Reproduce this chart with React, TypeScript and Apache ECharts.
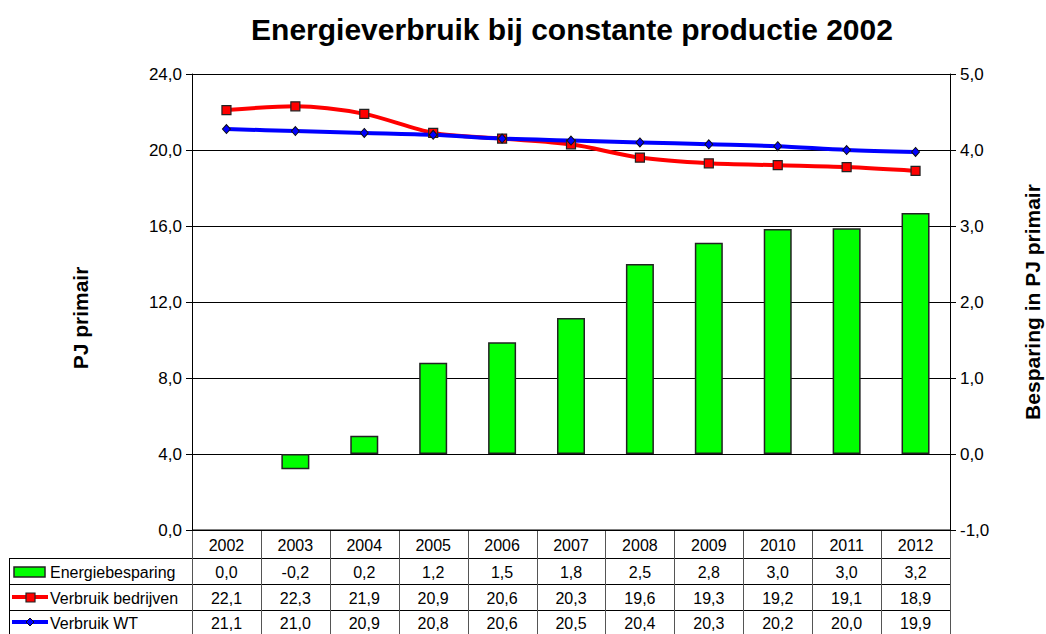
import React, { useEffect, useRef } from "react";
import * as echarts from "echarts";

const years = ["2002", "2003", "2004", "2005", "2006", "2007", "2008", "2009", "2010", "2011", "2012"];
const besparing = [0.0, -0.2, 0.24, 1.2, 1.47, 1.79, 2.5, 2.78, 2.96, 2.97, 3.17];
const verbruikBedrijven = [22.1, 22.3, 21.9, 20.9, 20.6, 20.3, 19.6, 19.3, 19.2, 19.1, 18.9];
const verbruikWT = [21.1, 21.0, 20.9, 20.8, 20.6, 20.5, 20.4, 20.3, 20.2, 20.0, 19.9];
const seriesNames = ["Energiebesparing", "Verbruik bedrijven", "Verbruik WT"];
const leftTicks = { min: 0, max: 24, interval: 4 };
const rightTicks = { min: -1, max: 5, interval: 1 };

const FONT = "Arial, 'Liberation Sans', sans-serif";
const fmt = (v: number) => v.toFixed(1).replace(".", ",");

export default function App() {
  const ref = useRef<HTMLDivElement>(null);
  useEffect(() => {
    if (!ref.current) return;
    const chart = echarts.init(ref.current, undefined, { renderer: "svg" });
    const W = 1046;
    const gl = 192, gr = 96, gt = 74, gb = 104;
    const plotR = W - gr;
    const plotB = 634 - gb;
    const cw = (plotR - gl) / years.length;
    const rowLines = [plotB, 558, 584, 610, 634];
    const rowCenters = [545, 572, 598, 623];
    const tableFont = { fontFamily: FONT, fontSize: 16, fill: "#000" };
    const g: any[] = [];
    g.push({ type: "line", shape: { x1: gl, y1: rowLines[0], x2: plotR, y2: rowLines[0] }, style: { stroke: "#000", lineWidth: 1 } });
    for (let i = 1; i < 4; i++) {
      g.push({ type: "line", shape: { x1: 9, y1: rowLines[i] + 0.5, x2: plotR, y2: rowLines[i] + 0.5 }, style: { stroke: "#000", lineWidth: 1 } });
    }
    g.push({ type: "line", shape: { x1: 9.5, y1: rowLines[1], x2: 9.5, y2: 634 }, style: { stroke: "#000", lineWidth: 1 } });
    for (let i = 0; i <= years.length; i++) {
      const x = Math.round(gl + i * cw) + 0.5;
      g.push({ type: "line", shape: { x1: x, y1: plotB, x2: x, y2: 634 }, style: { stroke: "#555", lineWidth: 1 } });
    }
    const rows = [years, besparing.map(fmt), verbruikBedrijven.map(fmt), verbruikWT.map(fmt)];
    rows.forEach((row, r) => {
      row.forEach((t, i) => {
        g.push({
          type: "text",
          x: gl + (i + 0.5) * cw,
          y: rowCenters[r],
          style: { ...tableFont, text: t, align: "center", verticalAlign: "middle" },
        });
      });
    });
    g.push({ type: "rect", shape: { x: 14, y: 567, width: 31, height: 10 }, style: { fill: "#00ff00", stroke: "#222", lineWidth: 1.5 } });
    g.push({ type: "line", shape: { x1: 12, y1: 597, x2: 48, y2: 597 }, style: { stroke: "#ff0000", lineWidth: 4 } });
    g.push({ type: "rect", shape: { x: 26, y: 593, width: 9, height: 9 }, style: { fill: "#ff0000", stroke: "#222", lineWidth: 1.2 } });
    g.push({ type: "line", shape: { x1: 12, y1: 622, x2: 48, y2: 622 }, style: { stroke: "#0000ff", lineWidth: 4 } });
    g.push({ type: "polygon", shape: { points: [[30, 618], [34, 622], [30, 626], [26, 622]] }, style: { fill: "#0000ff", stroke: "#111", lineWidth: 1 } });
    seriesNames.forEach((n, i) => {
      g.push({ type: "text", x: 50, y: rowCenters[i + 1], style: { ...tableFont, text: n, align: "left", verticalAlign: "middle" } });
    });
    g.push({ type: "text", x: 80, y: 318, rotation: Math.PI / 2, style: { text: "PJ primair", fontFamily: FONT, fontSize: 21, fontWeight: "bold", fill: "#000", align: "center", verticalAlign: "middle" } });
    g.push({ type: "text", x: 1032, y: 302, rotation: Math.PI / 2, style: { text: "Besparing in PJ primair", fontFamily: FONT, fontSize: 21, fontWeight: "bold", fill: "#000", align: "center", verticalAlign: "middle" } });

    const axisLabel = { fontFamily: FONT, fontSize: 17, color: "#000", formatter: (v: number) => fmt(v), margin: 10 };
    chart.setOption({
      animation: false,
      backgroundColor: "#fff",
      title: {
        text: "Energieverbruik bij constante productie 2002",
        left: 567,
        top: 9,
        textAlign: "center",
        textStyle: { fontFamily: FONT, fontSize: 30, fontWeight: "bold", color: "#000" },
      },
      grid: { left: gl, right: gr, top: gt, bottom: gb, containLabel: false },
      xAxis: {
        type: "category",
        data: years,
        boundaryGap: true,
        axisLine: { show: true, lineStyle: { color: "#000", width: 1 } },
        axisTick: { show: false },
        axisLabel: { show: false },
        splitLine: { show: false },
      },
      yAxis: [
        {
          type: "value",
          position: "left",
          ...leftTicks,
          axisLine: { show: true, lineStyle: { color: "#000", width: 1 } },
          axisTick: { show: true, inside: false, length: 6, lineStyle: { color: "#000" } },
          splitLine: { show: true, lineStyle: { color: "#000", width: 1 } },
          axisLabel,
        },
        {
          type: "value",
          position: "right",
          ...rightTicks,
          axisLine: { show: true, lineStyle: { color: "#000", width: 1 } },
          axisTick: { show: true, inside: false, length: 6, lineStyle: { color: "#000" } },
          splitLine: { show: false },
          axisLabel,
        },
      ],
      series: [
        {
          name: seriesNames[0],
          type: "bar",
          yAxisIndex: 1,
          data: besparing.map((v) => (v === 0 ? { value: v, itemStyle: { opacity: 0 } } : v)),
          barWidth: 28,
          itemStyle: { color: "#00ff00", borderColor: "#222", borderWidth: 1.5 },
        },
        {
          name: seriesNames[1],
          type: "line",
          yAxisIndex: 0,
          data: verbruikBedrijven,
          smooth: 0.3,
          symbol: "rect",
          symbolSize: 9,
          lineStyle: { color: "#ff0000", width: 4 },
          itemStyle: { color: "#ff0000", borderColor: "#222", borderWidth: 1.2 },
        },
        {
          name: seriesNames[2],
          type: "line",
          yAxisIndex: 0,
          data: verbruikWT,
          smooth: 0.3,
          symbol: "diamond",
          symbolSize: [8, 9],
          lineStyle: { color: "#0000ff", width: 4 },
          itemStyle: { color: "#0000ff", borderColor: "#111", borderWidth: 1 },
        },
      ],
      graphic: g,
    });
    return () => chart.dispose();
  }, []);
  return <div ref={ref} style={{ position: "fixed", left: 0, top: 0, width: 1046, height: 634 }} />;
}
